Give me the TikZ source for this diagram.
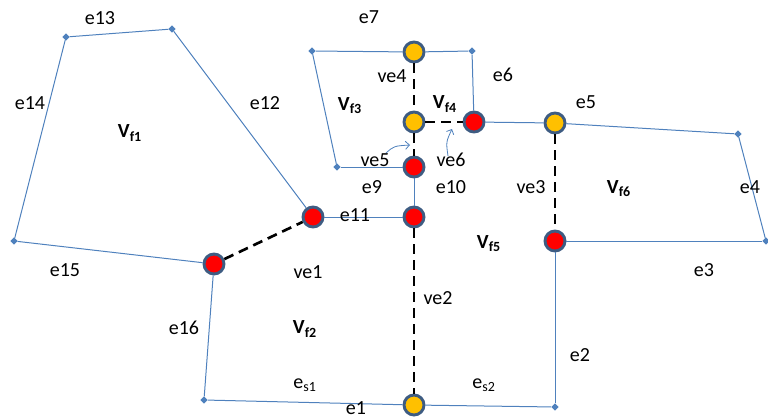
\documentclass[tikz,border=0pt]{standalone}
\usepackage{fontspec}
\setmainfont{Carlito}
\usetikzlibrary{arrows.meta,shapes.geometric}
\definecolor{edgeblue}{RGB}{79,129,189}
\definecolor{ringblue}{RGB}{62,92,130}
\definecolor{vyellow}{RGB}{255,192,0}
\begin{document}
\begin{tikzpicture}[x=0.75pt,y=-0.75pt,
  font=\fontsize{15pt}{17pt}\selectfont,
  corner/.style={diamond,fill=edgeblue,inner sep=0pt,minimum size=5.5pt},
  redv/.style={circle,fill=red,draw=ringblue,line width=2.2pt,inner sep=0pt,minimum size=15pt},
  yelv/.style={circle,fill=vyellow,draw=ringblue,line width=2.2pt,inner sep=0pt,minimum size=15pt},
  edge/.style={draw=edgeblue,line width=0.75pt},
  vlink/.style={draw=black,line width=2pt,dash pattern=on 7.5pt off 4.5pt},
  pointer/.style={draw=edgeblue,line width=0.6pt,-{Straight Barb[length=3pt,width=6pt]}},
  lbl/.style={inner sep=0pt,anchor=center},
  face/.style={inner sep=0pt,anchor=center,font=\fontsize{15pt}{17pt}\selectfont\bfseries}]
\useasboundingbox (0,0) rectangle (768,418);

% vertices
\node[corner] (A) at (66,37) {};
\node[corner] (B) at (172,29) {};
\node[redv]   (C) at (313,217) {};
\node[redv]   (D) at (214,264) {};
\node[corner] (E) at (14,241) {};
\node[corner] (F) at (204,400) {};
\node[yelv]   (G) at (414,405) {};
\node[corner] (H) at (555,407) {};
\node[redv]   (I) at (555,241) {};
\node[corner] (J) at (766,241) {};
\node[corner] (K) at (738,134) {};
\node[yelv]   (L) at (555,123) {};
\node[redv]   (M) at (474,122) {};
\node[yelv]   (N) at (414,122) {};
\node[yelv]   (O) at (414,52) {};
\node[corner] (P) at (312,51) {};
\node[corner] (Q) at (472,51) {};
\node[corner] (R) at (337,167) {};
\node[redv]   (S) at (414,167) {};
\node[redv]   (T) at (414,217) {};

% face boundaries
\draw[edge] (A) -- (B);
\draw[edge] (B) -- (C);
\draw[edge] (A) -- (E);
\draw[edge] (E) -- (D);
\draw[edge] (D) -- (F);
\draw[edge] (F) -- (G);
\draw[edge] (G) -- (H);
\draw[edge] (H) -- (I);
\draw[edge] (I) -- (J);
\draw[edge] (J) -- (K);
\draw[edge] (K) -- (L);
\draw[edge] (L) -- (M);
\draw[edge] (M) -- (Q);
\draw[edge] (Q) -- (O);
\draw[edge] (O) -- (P);
\draw[edge] (P) -- (R);
\draw[edge] (R) -- (S);
\draw[edge] (S) -- (T);
\draw[edge] (C) -- (T);

% virtual edges
\draw[vlink] (D) -- (C);
\draw[vlink] (T) -- (G);
\draw[vlink] (L) -- (I);
\draw[vlink] (O) -- (N);
\draw[vlink] (N) -- (S);
\draw[vlink] (N) -- (M);

% pointers to ve5 and ve6
\coordinate (p5s) at (386,153);
\coordinate (p5e) at (410,145);
\coordinate (p6s) at (448,156);
\coordinate (p6e) at (452,129);
\draw[pointer] (p5s) .. controls (394,146) .. (p5e);
\draw[pointer] (p6s) .. controls (446,142) .. (p6e);

% edge labels
\node[lbl] (le13) at (100,18) {e13};
\node[lbl] (le14) at (30,103) {e14};
\node[lbl] (le12) at (265,103) {e12};
\node[lbl] (le7) at (369,17) {e7};
\node[lbl] (lve4) at (392,76) {ve4};
\node[lbl] (le6) at (503,75) {e6};
\node[lbl] (le5) at (586,102) {e5};
\node[lbl] (lve5) at (375,160) {ve5};
\node[lbl] (lve6) at (451,160) {ve6};
\node[lbl] (le9) at (372,187) {e9};
\node[lbl] (le10) at (451,187) {e10};
\node[lbl] (le11) at (355,215) {e11};
\node[lbl] (lve3) at (531,187) {ve3};
\node[lbl] (le4) at (750,187) {e4};
\node[lbl] (le3) at (704,270) {e3};
\node[lbl] (lve1) at (308,272) {ve1};
\node[lbl] (le15) at (65,270) {e15};
\node[lbl] (lve2) at (438,298) {ve2};
\node[lbl] (le16) at (184,328) {e16};
\node[lbl] (le2) at (580,355) {e2};
\node[lbl] (les1) at (305,385) {e\textsubscript{s1}};
\node[lbl] (les2) at (484,385) {e\textsubscript{s2}};
\node[lbl] (le1) at (356,408) {e1};

% face labels
\node[face] (vf1) at (130,133) {V\textsubscript{f1}};
\node[face] (vf2) at (305,329) {V\textsubscript{f2}};
\node[face] (vf3) at (350,106) {V\textsubscript{f3}};
\node[face] (vf4) at (445,104) {V\textsubscript{f4}};
\node[face] (vf5) at (489,244) {V\textsubscript{f5}};
\node[face] (vf6) at (619,189) {V\textsubscript{f6}};
\end{tikzpicture}
\end{document}
